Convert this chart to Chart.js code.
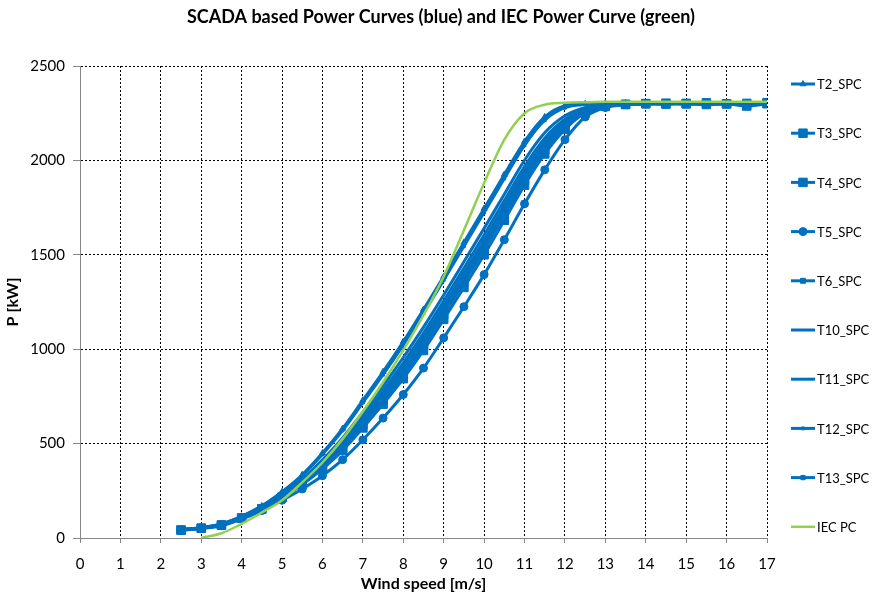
<!DOCTYPE html>
<html><head><meta charset="utf-8">
<script src="https://cdn.jsdelivr.net/npm/chart.js@4.4.1/dist/chart.umd.min.js"></script>
<style>html,body{margin:0;padding:0;background:#fff;}#wrap{width:872px;height:598px;}</style>
</head><body><div id="wrap"><canvas id="c" width="872" height="598"></canvas></div>
<script>
const chartTitle = 'SCADA based Power Curves (blue) and IEC Power Curve (green)';
const xTitle = 'Wind speed [m/s]';
const yTitle = 'P [kW]';
const windSpeed = [2.5,3,3.5,4,4.5,5,5.5,6,6.5,7,7.5,8,8.5,9,9.5,10,10.5,11,11.5,12,12.5,13,13.5,14,14.5,15,15.5,16,16.5,17];
const seriesNames = ['T2_SPC','T3_SPC','T4_SPC','T5_SPC','T6_SPC','T10_SPC','T11_SPC','T12_SPC','T13_SPC','IEC PC'];
const T2_SPC  = [45,55,75,115,170,245,335,450,580,730,880,1040,1210,1385,1565,1745,1925,2100,2230,2290,2300,2302,2305,2303,2306,2304,2305,2302,2306,2304];
const T3_SPC  = [42,52,69,106,155,217,289,376,478,600,728,866,1018,1184,1354,1528,1711,1895,2056,2178,2257,2288,2297,2300,2298,2302,2296,2299,2288,2300];
const T4_SPC  = [42,52,68,105,153,214,283,366,464,583,709,844,993,1158,1327,1500,1683,1869,2034,2164,2251,2286,2296,2301,2303,2299,2305,2300,2302,2306];
const T5_SPC  = [40,50,65,100,145,200,260,330,415,520,635,760,900,1060,1225,1395,1580,1770,1950,2110,2230,2280,2295,2298,2302,2300,2297,2301,2299,2303];
const T6_SPC  = [42,52,70,107,156,220,294,384,489,615,745,886,1040,1206,1378,1553,1735,1919,2076,2191,2262,2289,2297,2303,2300,2304,2298,2302,2300,2298];
const T10_SPC = [44,54,72,110,162,231,312,414,530,667,806,956,1117,1287,1463,1640,1821,2001,2146,2236,2279,2294,2298,2300,2302,2299,2301,2300,2298,2301];
const T11_SPC = [44,53,71,109,160,227,305,402,514,646,782,928,1086,1255,1429,1605,1787,1968,2118,2218,2272,2292,2298,2301,2300,2303,2299,2301,2302,2300];
const T12_SPC = [45,55,74,114,168,242,330,443,570,717,865,1023,1191,1366,1545,1724,1904,2080,2213,2279,2296,2299,2300,2302,2301,2303,2300,2302,2301,2303];
const T13_SPC = [43,53,70,108,158,223,299,392,501,629,762,906,1061,1229,1402,1577,1759,1942,2096,2204,2266,2290,2298,2299,2302,2300,2303,2299,2301,2299];
const IEC_PC  = [null,0,25,75,135,200,295,400,525,670,825,995,1180,1385,1630,1880,2110,2250,2295,2305,2308,2310,2310,2310,2310,2310,2310,2310,2310,2310];
const xTicks = [0,1,2,3,4,5,6,7,8,9,10,11,12,13,14,15,16,17];
const yTicks = [0,500,1000,1500,2000,2500];

const BLUE = '#0070C0', GREEN = '#92D050';
const FONT = 'Lato';
const markers = [
  {style:'triangle', r:3.5},
  {style:'rect', r:6},
  {style:'rect', r:6},
  {style:'circle', r:4},
  {style:'rect', r:3.5},
  {style:false, r:0},
  {style:false, r:0},
  {style:'rect', r:2},
  {style:'rect', r:3},
  {style:false, r:0}
];
const values = [T2_SPC,T3_SPC,T4_SPC,T5_SPC,T6_SPC,T10_SPC,T11_SPC,T12_SPC,T13_SPC,IEC_PC];

const datasets = values.map((arr, i) => {
  const isIEC = i === values.length - 1;
  const col = isIEC ? GREEN : BLUE;
  return {
    label: seriesNames[i],
    data: windSpeed.map((x, k) => ({x: x, y: arr[k]})),
    borderColor: col,
    backgroundColor: col,
    borderWidth: isIEC ? 2.5 : 3,
    pointStyle: markers[i].style || 'circle',
    pointRadius: markers[i].style ? markers[i].r : 0,
    pointBorderWidth: 1,
    pointHoverRadius: 0,
    cubicInterpolationMode: 'monotone',
    order: isIEC ? 0 : 1 + i,
    spanGaps: false
  };
});

Chart.defaults.font.family = FONT;
Chart.defaults.color = '#000';

const customDraw = {
  id: 'customDraw',
  afterDraw(chart) {
    const ctx = chart.ctx;
    ctx.save();
    ctx.fillStyle = '#000';
    ctx.font = 'bold 18px ' + FONT;
    ctx.textAlign = 'center';
    ctx.textBaseline = 'middle';
    ctx.fillText(chartTitle, 441, 17);
    ctx.font = '13px ' + FONT;
    ctx.textAlign = 'left';
    for (let i = 0; i < seriesNames.length; i++) {
      const y = 84 + i * 49.2;
      const isIEC = i === seriesNames.length - 1;
      const col = isIEC ? GREEN : BLUE;
      ctx.strokeStyle = col;
      ctx.lineWidth = isIEC ? 2.5 : 3;
      ctx.beginPath();
      ctx.moveTo(791, y);
      ctx.lineTo(815, y);
      ctx.stroke();
      if (markers[i].style) {
        ctx.fillStyle = col;
        ctx.strokeStyle = col;
        ctx.lineWidth = 1;
        Chart.helpers.drawPoint(ctx, {pointStyle: markers[i].style, radius: markers[i].r, borderWidth: 1, rotation: 0}, 803, y);
      }
      ctx.fillStyle = '#000';
      ctx.fillText(seriesNames[i], 817, y + 1);
    }
    ctx.restore();
  }
};

new Chart(document.getElementById('c'), {
  type: 'line',
  data: { datasets: datasets },
  options: {
    responsive: false,
    animation: false,
    layout: { padding: { left: 0, right: 105, top: 66, bottom: 0 } },
    plugins: { legend: { display: false }, title: { display: false }, tooltip: { enabled: false } },
    scales: {
      x: {
        type: 'linear', min: 0, max: 17,
        afterBuildTicks: (s) => { s.ticks = xTicks.map(v => ({value: v})); },
        afterFit: (s) => { s.height = 60; },
        ticks: { padding: 12, font: { size: 15 }, color: '#000', maxRotation: 0, callback: (v) => String(v) },
        grid: {
          color: (c) => (c.tick && c.tick.value === 0) ? 'rgba(0,0,0,0)' : '#000',
          lineWidth: 1, tickLength: 5, tickColor: '#868686'
        },
        border: { display: true, color: '#868686', width: 1, dash: [2, 2] },
        title: { display: true, text: xTitle, font: { size: 16, weight: 'bold' }, color: '#000', padding: { top: 0, bottom: 5 } }
      },
      y: {
        type: 'linear', min: 0, max: 2500,
        afterBuildTicks: (s) => { s.ticks = yTicks.map(v => ({value: v})); },
        afterFit: (s) => { s.width = 80; },
        ticks: { padding: 8, font: { size: 15 }, color: '#000', callback: (v) => String(v) },
        grid: {
          color: (c) => (c.tick && c.tick.value === 0) ? 'rgba(0,0,0,0)' : '#000',
          lineWidth: 1, tickLength: 7, tickColor: '#868686'
        },
        border: { display: true, color: '#868686', width: 1, dash: [2, 2] },
        title: { display: true, text: yTitle, font: { size: 16, weight: 'bold' }, color: '#000', padding: { top: 3, bottom: 0 } }
      }
    }
  },
  plugins: [customDraw]
});
</script>
</body></html>
